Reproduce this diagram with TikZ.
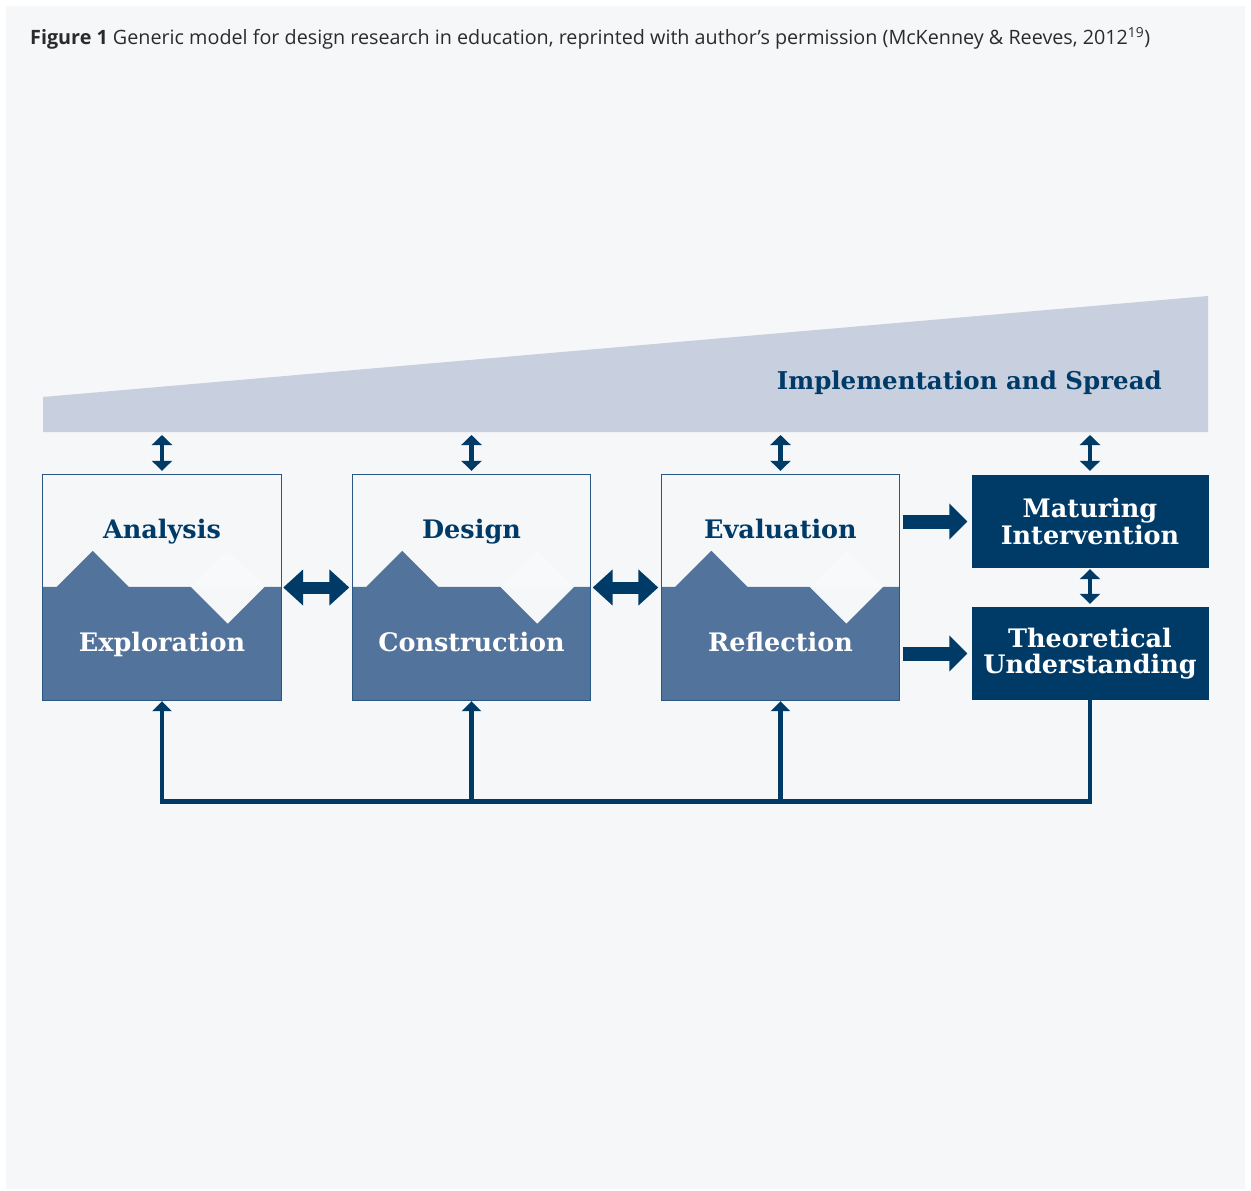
\documentclass[tikz,border=0pt]{standalone}
\usepackage{fontspec}
\setmainfont{Open Sans}
\newfontfamily\slab{DejaVu Serif}
\usetikzlibrary{arrows.meta,calc}
\definecolor{panel}{HTML}{F5F7F9}
\definecolor{wedgec}{HTML}{C8CFDE}
\definecolor{navy}{HTML}{003B68}
\definecolor{midblue}{HTML}{52739B}
\definecolor{boxline}{HTML}{2A5782}
\definecolor{faint}{HTML}{F8F9FA}
\definecolor{captxt}{HTML}{2B2B2B}
\tikzset{
  stagebox/.style={rectangle, minimum width=238pt, minimum height=225pt, inner sep=0pt, fill=panel},
  outbox/.style={rectangle, minimum width=237pt, minimum height=93pt, inner sep=0pt, fill=navy, text=white, align=center,
     font=\slab\bfseries\fontsize{25.5}{26.7}\selectfont},
  toplabel/.style={anchor=base, inner sep=0pt, text=navy, font=\slab\bfseries\fontsize{25.5}{27}\selectfont},
  lowlabel/.style={anchor=base, inner sep=0pt, text=white, font=\slab\bfseries\fontsize{25.5}{27}\selectfont},
  hdbl/.style={draw=navy, line width=12pt, {Triangle[length=20pt,width=35pt]}-{Triangle[length=20pt,width=35pt]}},
  rarr/.style={draw=navy, line width=14pt, -{Triangle[length=18pt,width=35pt]}},
  vdbl/.style={draw=navy, line width=4.7pt, {Triangle[length=10pt,width=20pt]}-{Triangle[length=10pt,width=20pt]}},
  fbline/.style={draw=navy, line width=4.5pt, line join=miter, -{Triangle[length=10pt,width=19pt]}},
}
\newcommand{\StageDecor}[1]{%
  \fill[midblue] ($(#1.north west)+(0,112)$) -- ++(14,0) -- ++(36,-36) -- ++(36,36) -- ++(62,0)
     -- ++(37,37) -- ++(37,-37) -- ($(#1.north east)+(0,112)$) -- (#1.south east) -- (#1.south west) -- cycle;
  \fill[faint] ($(#1.north west)+(148,112)$) -- ++(37,-36) -- ++(37,36) -- cycle;
  \draw[boxline, line width=1.3pt] (#1.north west) rectangle (#1.south east);
}
\begin{document}
\begin{tikzpicture}[x=1pt,y=-1pt]
\useasboundingbox (0,0) rectangle (1251,1191);
\fill[white] (0,0) rectangle (1251,1191);
\fill[panel] (6,6) rectangle (1245,1189);
% caption
\node[anchor=base west, inner sep=0pt, text=captxt, font=\fontsize{19.75}{22}\selectfont] (cap) at (30,45)
  {\textbf{Figure 1} Generic model for design research in education, reprinted with author’s permission (McKenney \& Reeves, 2012\textsuperscript{19})};
% wedge
\fill[wedgec] (43,397) -- (1208,296) -- (1208,432) -- (43,432) -- cycle;
\node[anchor=base east, inner sep=0pt, text=navy, font=\slab\bfseries\fontsize{24.5}{27}\selectfont] (impl) at (1162,389) {Implementation and Spread};
\coordinate (wb) at (0,432);
% stage boxes
\node[stagebox] (A) at (162,587.5) {};
\node[stagebox] (D) at (471.5,587.5) {};
\node[stagebox] (E) at (780.5,587.5) {};
\StageDecor{A}
\StageDecor{D}
\StageDecor{E}
\node[toplabel] (A1) at ($(A.north)+(0,64)$) {Analysis};
\node[lowlabel] (A2) at ($(A.north)+(0,177)$) {Exploration};
\node[toplabel] (D1) at ($(D.north)+(0,64)$) {Design};
\node[lowlabel] (D2) at ($(D.north)+(0,177)$) {Construction};
\node[toplabel] (E1) at ($(E.north)+(0,64)$) {Evaluation};
\node[lowlabel] (E2) at ($(E.north)+(0,177)$) {Reflection};
% outcome boxes
\node[outbox] (M) at (1090,521.5) {Maturing\\Intervention};
\node[outbox] (T) at (1090,653.5) {Theoretical\\Understanding};
% arrows
\draw[hdbl, shorten <=2pt, shorten >=3pt] (A.east) -- (D.west);
\draw[hdbl, shorten <=2pt, shorten >=3pt] (D.east) -- (E.west);
\draw[rarr, shorten <=3pt, shorten >=4pt] (E.east |- M.west) -- (M.west);
\draw[rarr, shorten <=3pt, shorten >=4pt] (E.east |- T.west) -- (T.west);
\draw[vdbl, shorten <=3pt, shorten >=4pt] (wb -| A.north) -- (A.north);
\draw[vdbl, shorten <=3pt, shorten >=4pt] (wb -| D.north) -- (D.north);
\draw[vdbl, shorten <=3pt, shorten >=4pt] (wb -| E.north) -- (E.north);
\draw[vdbl, shorten <=3pt, shorten >=4pt] (wb -| M.north) -- (M.north);
\draw[vdbl, shorten <=1pt, shorten >=3pt] (M.south) -- (T.north);
% feedback
\coordinate (fb) at ($(T.south)+(0,101.5)$);
\draw[fbline, shorten >=1pt] (T.south) -- (fb) -| (A.south);
\draw[fbline, shorten >=1pt] (fb -| D.south) -- (D.south);
\draw[fbline, shorten >=1pt] (fb -| E.south) -- (E.south);
\end{tikzpicture}
\end{document}
